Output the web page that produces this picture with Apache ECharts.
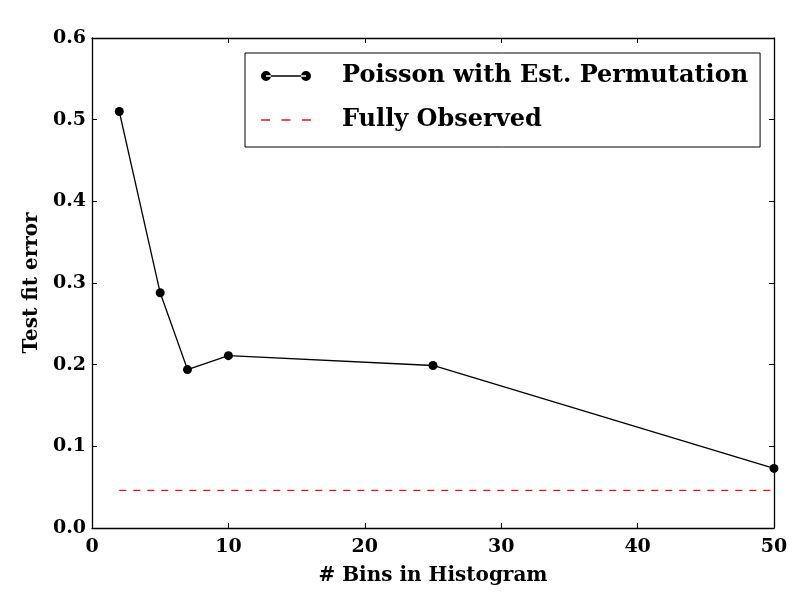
<!DOCTYPE html>
<html>
<head>
<meta charset="utf-8">
<script src="https://cdn.jsdelivr.net/npm/echarts@6/dist/echarts.min.js"></script>
<style>html,body{margin:0;padding:0;background:#fff}#c{width:812px;height:612px}</style>
</head>
<body>
<div id="c"></div>
<script>
const bins = [2, 5, 7, 10, 25, 50];
const poissonErr = [0.510, 0.288, 0.194, 0.211, 0.199, 0.073];
const fullyObservedX = [2, 50];
const fullyObservedY = [0.046, 0.046];
const seriesNames = ['Poisson with Est. Permutation', 'Fully Observed'];

const FONT = 'DejaVu Serif';
const chart = echarts.init(document.getElementById('c'), null, {renderer: 'canvas'});
const axisCommon = {
  axisLine: {show: true, onZero: false, lineStyle: {color: '#000', width: 1.3}},
  axisTick: {show: true, inside: true, length: 5, lineStyle: {color: '#000', width: 1}},
  splitLine: {show: false}
};
chart.setOption({
  animation: false,
  backgroundColor: '#fff',
  grid: {left: 92, right: 38, top: 38, bottom: 84, containLabel: false},
  xAxis: [
    Object.assign({type: 'value', min: 0, max: 50, interval: 10, position: 'bottom',
      name: '# Bins in Histogram', nameLocation: 'middle', nameGap: 38,
      nameTextStyle: {fontFamily: FONT, fontWeight: 'bold', fontSize: 20, color: '#000'},
      axisLabel: {fontFamily: FONT, fontWeight: 'bold', fontSize: 19, color: '#000', margin: 10}}, axisCommon),
    Object.assign({type: 'value', min: 0, max: 50, interval: 10, position: 'top',
      axisLabel: {show: false}}, axisCommon)
  ],
  yAxis: [
    Object.assign({type: 'value', min: 0, max: 0.6, interval: 0.1, position: 'left',
      name: 'Test fit error', nameLocation: 'middle', nameGap: 46,
      nameTextStyle: {fontFamily: FONT, fontWeight: 'bold', fontSize: 20, color: '#000'},
      axisLabel: {fontFamily: FONT, fontWeight: 'bold', fontSize: 19, color: '#000', margin: 6,
        formatter: v => v.toFixed(1)}}, axisCommon),
    Object.assign({type: 'value', min: 0, max: 0.6, interval: 0.1, position: 'right',
      axisLabel: {show: false}}, axisCommon)
  ],
  legend: {
    orient: 'vertical', left: 245, top: 53,
    backgroundColor: '#fff', borderColor: '#000', borderWidth: 1, borderRadius: 0,
    padding: [11, 12, 15, 16], itemGap: 20, itemWidth: 50, itemHeight: 10,
    textStyle: {fontFamily: FONT, fontWeight: 'bold', fontSize: 24, color: '#000', padding: [0, 0, 0, 26]},
    data: [
      {name: seriesNames[0], icon: 'path://M0,5 a5,5 0 1,0 10,0 a5,5 0 1,0 -10,0 Z M40,5 a5,5 0 1,0 10,0 a5,5 0 1,0 -10,0 Z M5,4.3 L45,4.3 L45,5.7 L5,5.7 Z'},
      {name: seriesNames[1], icon: 'path://M0,4.3 L9,4.3 L9,5.7 L0,5.7 Z M20.5,4.3 L29.5,4.3 L29.5,5.7 L20.5,5.7 Z M41,4.3 L50,4.3 L50,5.7 L41,5.7 Z M0,0 L0.01,0 L0.01,0.01 Z M0,10 L0.01,10 L0.01,9.99 Z'}
    ]
  },
  series: [
    {name: seriesNames[0], type: 'line', data: bins.map((b, i) => [b, poissonErr[i]]),
      symbol: 'circle', symbolSize: 9, itemStyle: {color: '#000'},
      lineStyle: {color: '#000', width: 1.3}, z: 3},
    {name: seriesNames[1], type: 'line', data: fullyObservedX.map((b, i) => [b, fullyObservedY[i]]),
      symbol: 'none', itemStyle: {color: '#e0141e'},
      lineStyle: {color: '#e0141e', width: 1.3, type: [7, 7]}, z: 2}
  ]
});
</script>
</body>
</html>
